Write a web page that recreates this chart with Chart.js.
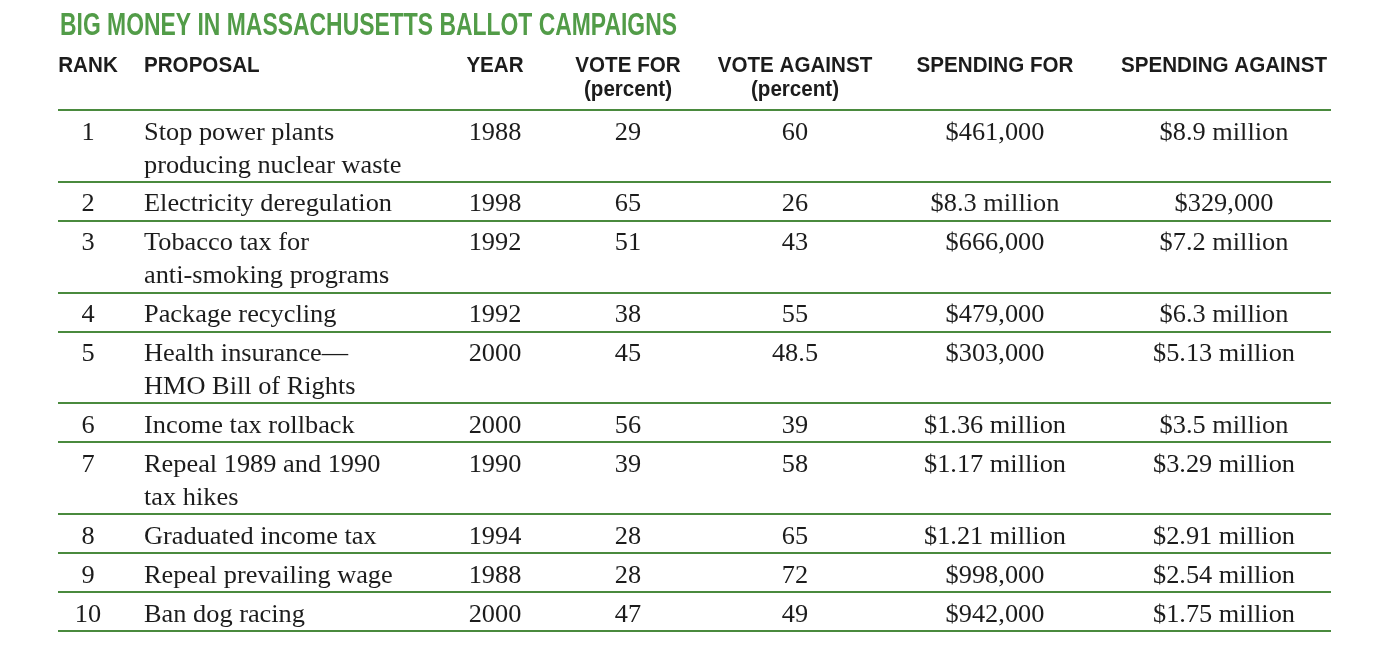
<!DOCTYPE html>
<html><head><meta charset="utf-8">
<script src="https://cdn.jsdelivr.net/npm/chart.js@4.4.1/dist/chart.umd.min.js"></script>
<style>html,body{margin:0;padding:0;background:#fff;overflow:hidden}canvas{display:block}</style>
</head><body>
<canvas id="c" width="1388" height="666"></canvas>
<script>
// ---- data ----
const title = 'BIG MONEY IN MASSACHUSETTS BALLOT CAMPAIGNS';
const headers = ['RANK', 'PROPOSAL', 'YEAR', 'VOTE FOR', 'VOTE AGAINST', 'SPENDING FOR', 'SPENDING AGAINST'];
const subHeaders = ['', '', '', '(percent)', '(percent)', '', ''];
const ranks = [1, 2, 3, 4, 5, 6, 7, 8, 9, 10];
const proposals = [
  ['Stop power plants', 'producing nuclear waste'],
  ['Electricity deregulation'],
  ['Tobacco tax for', 'anti-smoking programs'],
  ['Package recycling'],
  ['Health insurance\u2014', 'HMO Bill of Rights'],
  ['Income tax rollback'],
  ['Repeal 1989 and 1990', 'tax hikes'],
  ['Graduated income tax'],
  ['Repeal prevailing wage'],
  ['Ban dog racing']
];
const years = [1988, 1998, 1992, 1992, 2000, 2000, 1990, 1994, 1988, 2000];
const voteFor = [29, 65, 51, 38, 45, 56, 39, 28, 28, 47];
const voteAgainst = [60, 26, 43, 55, 48.5, 39, 58, 65, 72, 49];
const spendingFor = ['$461,000', '$8.3 million', '$666,000', '$479,000', '$303,000', '$1.36 million', '$1.17 million', '$1.21 million', '$998,000', '$942,000'];
const spendingAgainst = ['$8.9 million', '$329,000', '$7.2 million', '$6.3 million', '$5.13 million', '$3.5 million', '$3.29 million', '$2.91 million', '$2.54 million', '$1.75 million'];

// ---- layout / style ----
const L = {left: 58, right: 1331, top: 110, bottom: 631, W: 1388, H: 666};
const colX = [88, 144, 495, 628, 795, 995, 1224];
const colAlign = ['center', 'left', 'center', 'center', 'center', 'center', 'center'];
const rowPad = 0.182;          // extra space per row, in text-line units
const baseOff = 0.9;           // first baseline below row rule, in line units
const titleBase = 35, headBase1 = 72, headBase2 = 96;
const green = 'rgb(82,156,72)';
const ruleGreen = 'rgb(74,138,62)';
const ink = '#1c1c1c';
const serif = '"Liberation Serif", "DejaVu Serif", serif';
const sans = '"Liberation Sans Narrow", "Liberation Sans", Arial, sans-serif';

// row boundaries in line units
const rowStart = [];
let acc = 0;
proposals.forEach(p => { rowStart.push(acc); acc += p.length + rowPad; });
const total = acc;
const bounds = rowStart.concat([total]);

function fitScale(ctx, font, text, target) {
  ctx.save(); ctx.font = font; const w = ctx.measureText(text).width; ctx.restore();
  return target / w;
}
function drawText(ctx, text, x, y, align, sx) {
  ctx.save(); ctx.translate(x, y); ctx.scale(sx, 1);
  ctx.textAlign = align; ctx.textBaseline = 'alphabetic';
  ctx.fillText(text, 0, 0); ctx.restore();
}

const tablePlugin = {
  id: 'tableText',
  afterDraw(chart) {
    const ctx = chart.ctx, xs = chart.scales.x, ys = chart.scales.y;
    const titleFont = 'bold 32px ' + sans;
    const headFont = 'bold 22px ' + sans;
    const bodyFont = '25px ' + serif;
    const tS = fitScale(ctx, titleFont, title, 617);
    const hS = fitScale(ctx, headFont, 'SPENDING AGAINST', 206);
    const bS = fitScale(ctx, bodyFont, 'Electricity deregulation', 248);

    // title
    ctx.fillStyle = green; ctx.font = titleFont;
    drawText(ctx, title, xs.getPixelForValue(60), titleBase, 'left', tS);

    // headers
    ctx.fillStyle = ink; ctx.font = headFont;
    headers.forEach((h, i) => {
      drawText(ctx, h, xs.getPixelForValue(colX[i]), headBase1, colAlign[i], hS);
      if (subHeaders[i]) drawText(ctx, subHeaders[i], xs.getPixelForValue(colX[i]), headBase2, colAlign[i], hS);
    });

    // body
    ctx.font = bodyFont; ctx.fillStyle = ink;
    ranks.forEach((r, i) => {
      const y0 = ys.getPixelForValue(rowStart[i] + baseOff);
      const cells = [String(r), null, String(years[i]), String(voteFor[i]), String(voteAgainst[i]), spendingFor[i], spendingAgainst[i]];
      cells.forEach((t, c) => {
        if (c === 1) {
          proposals[i].forEach((line, k) => {
            drawText(ctx, line, xs.getPixelForValue(colX[1]), ys.getPixelForValue(rowStart[i] + baseOff + k), 'left', bS);
          });
        } else {
          drawText(ctx, t, xs.getPixelForValue(colX[c]), y0, colAlign[c], bS);
        }
      });
    });
  }
};

new Chart(document.getElementById('c'), {
  type: 'scatter',
  data: {datasets: [{data: [], pointRadius: 0}]},
  options: {
    responsive: false,
    animation: false,
    devicePixelRatio: 1,
    layout: {padding: {left: L.left, right: L.W - L.right, top: L.top, bottom: L.H - L.bottom}},
    plugins: {legend: {display: false}, tooltip: {enabled: false}, title: {display: false}},
    scales: {
      x: {type: 'linear', min: L.left, max: L.right, display: false},
      y: {
        type: 'linear', reverse: true, min: 0, max: total,
        afterBuildTicks: s => { s.ticks = bounds.map(v => ({value: v})); },
        ticks: {display: false},
        border: {display: false},
        grid: {color: ruleGreen, lineWidth: 2, drawTicks: false}
      }
    }
  },
  plugins: [tablePlugin]
});
</script>
</body></html>
